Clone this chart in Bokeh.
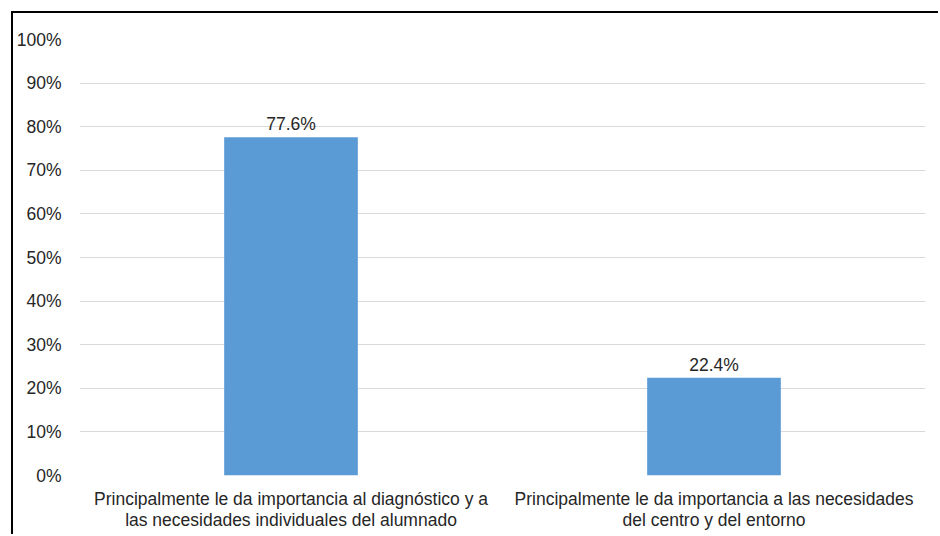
from bokeh.plotting import figure
from bokeh.models import FactorRange, NumeralTickFormatter, FixedTicker, ColumnDataSource
from bokeh.core.properties import value
from bokeh.embed import file_html
from bokeh.resources import INLINE

# Survey answers and their shares
categories = [
    "Principalmente le da importancia al diagnóstico y a\nlas necesidades individuales del alumnado",
    "Principalmente le da importancia a las necesidades\ndel centro y del entorno",
]
shares = [0.776, 0.224]
share_labels = ["77.6%", "22.4%"]
y_ticks = [0.0, 0.1, 0.2, 0.3, 0.4, 0.5, 0.6, 0.7, 0.8, 0.9, 1.0]

FONT = "Liberation Sans"
TEXT_COLOR = "#262626"
BAR_COLOR = "#5B9BD5"
FONT_SIZE = "17.5px"

source = ColumnDataSource(data=dict(cat=categories, share=shares, label=share_labels))

p = figure(
    x_range=FactorRange(*categories, range_padding=0.0),
    y_range=(0, 1.0),
    width=927,
    height=523,
    output_backend="svg",
    toolbar_location=None,
    min_border_left=64,
    min_border_right=15,
    min_border_top=26,
    min_border_bottom=61,
    styles={
        "margin-left": "11px",
        "margin-top": "11px",
        "border-top": "2px solid #000000",
        "border-left": "2px solid #000000",
    },
)

p.vbar(x="cat", top="share", width=0.316, source=source,
       fill_color=BAR_COLOR, line_color=None)

p.text(x="cat", y="share", text="label", source=source,
       text_align="center", text_baseline="bottom", y_offset=-3,
       text_font=value(FONT), text_font_size=FONT_SIZE, text_color=TEXT_COLOR)

p.outline_line_color = None
p.background_fill_color = "white"
p.border_fill_color = "white"

p.xgrid.grid_line_color = None
p.ygrid.grid_line_color = "#D9D9D9"
p.ygrid.grid_line_width = 1

p.yaxis.ticker = FixedTicker(ticks=y_ticks)
p.yaxis.formatter = NumeralTickFormatter(format="0%")
for ax in (p.xaxis, p.yaxis):
    ax.axis_line_color = None
    ax.major_tick_line_color = None
    ax.minor_tick_line_color = None
    ax.major_label_text_font = FONT
    ax.major_label_text_font_size = FONT_SIZE
    ax.major_label_text_color = TEXT_COLOR
p.yaxis.major_label_standoff = 12
p.xaxis.major_label_standoff = 7
p.xaxis.major_label_text_line_height = 1.05

open("out.html", "w").write(file_html(p, INLINE))
